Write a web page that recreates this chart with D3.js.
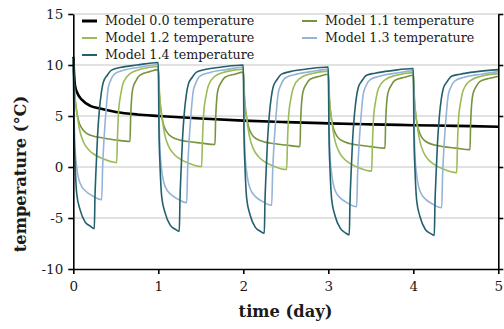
<!DOCTYPE html>
<html lang="en">
<head>
<meta charset="UTF-8">
<title>Model temperatures</title>
<script src="https://d3js.org/d3.v7.min.js"></script>
<style>
  body { margin: 0; background: #fff; }
  svg text { font-family: "DejaVu Serif", serif; fill: #1a1a1a; }
</style>
</head>
<body>
<svg id="chart" width="504" height="329"></svg>
<script>
// day index each cycle starts at
const days = [0, 1, 2, 3, 4];

// Model 0.0 (no cycling)
const m00Time = [0, 0.01, 0.02, 0.05, 0.1, 0.2, 0.3, 0.5, 0.75, 1, 1.5, 2, 2.5, 3, 3.5, 4, 4.5, 5];
const m00Temp = [10.8, 9.0, 8.0, 7.2, 6.6, 6.0, 5.75, 5.4, 5.15, 5.0, 4.75, 4.55, 4.4, 4.28, 4.18, 4.1, 4.03, 3.95];

// Model 1.1 : phase within the day, temps per day
const m11Phase = [0, 0.01, 0.03, 0.06, 0.1, 0.157, 0.25, 0.35, 0.5, 0.667, 0.675, 0.7, 0.74, 0.785, 0.9, 1.0];
const m11Temp = [
  [10.7, 8.0, 6.0, 4.6, 3.8, 3.3, 3.0, 2.85, 2.65, 2.5, 5.0, 7.7, 8.5, 9.0, 9.35, 9.55],
  [9.55, 7.5, 5.6, 4.2, 3.45, 2.95, 2.65, 2.5, 2.35, 2.2, 4.8, 7.5, 8.3, 8.8, 9.1, 9.3],
  [9.3, 7.2, 5.3, 4.0, 3.2, 2.75, 2.45, 2.3, 2.15, 2.0, 4.6, 7.3, 8.1, 8.6, 8.9, 9.1],
  [9.1, 7.0, 5.1, 3.8, 3.05, 2.6, 2.3, 2.15, 2.0, 1.85, 4.5, 7.2, 8.0, 8.5, 8.8, 9.0],
  [9.0, 6.9, 5.0, 3.7, 2.9, 2.45, 2.15, 2.0, 1.85, 1.7, 4.4, 7.1, 7.9, 8.4, 8.7, 8.9]
];

// Model 1.2
const m12Phase = [0, 0.015, 0.04, 0.07, 0.12, 0.18, 0.235, 0.35, 0.51, 0.52, 0.533, 0.56, 0.59, 0.667, 0.8, 1.0];
const m12Temp = [
  [10.7, 7.5, 5.5, 3.8, 2.45, 1.7, 1.3, 0.8, 0.43, 3.0, 5.5, 7.2, 8.3, 9.15, 9.6, 9.85],
  [9.85, 7.1, 5.1, 3.4, 2.05, 1.3, 0.9, 0.4, 0.05, 2.7, 5.2, 6.9, 8.0, 8.9, 9.35, 9.6],
  [9.6, 6.8, 4.8, 3.1, 1.75, 1.0, 0.6, 0.1, -0.25, 2.5, 5.0, 6.7, 7.8, 8.7, 9.15, 9.4],
  [9.4, 6.6, 4.6, 2.9, 1.6, 0.85, 0.45, -0.05, -0.4, 2.4, 4.9, 6.6, 7.7, 8.55, 9.0, 9.25],
  [9.25, 6.5, 4.5, 2.8, 1.45, 0.7, 0.3, -0.2, -0.55, 2.3, 4.8, 6.5, 7.6, 8.45, 8.9, 9.15]
];

// Model 1.3
const m13Phase = [0, 0.01, 0.02, 0.04, 0.08, 0.15, 0.22, 0.334, 0.345, 0.36, 0.385, 0.41, 0.44, 0.49, 0.6, 0.8, 1.0];
const m13Temp = [
  [10.7, 5.0, 2.0, 0.0, -1.6, -2.4, -2.8, -3.2, 0.0, 2.5, 5.5, 7.7, 8.5, 9.15, 9.5, 9.8, 10.05],
  [10.05, 4.6, 1.7, -0.3, -1.9, -2.7, -3.1, -3.5, -0.3, 2.2, 5.2, 7.4, 8.2, 8.9, 9.25, 9.55, 9.8],
  [9.8, 4.4, 1.4, -0.5, -2.1, -2.95, -3.35, -3.75, -0.5, 2.0, 5.0, 7.2, 8.0, 8.7, 9.05, 9.35, 9.6],
  [9.6, 4.2, 1.2, -0.7, -2.3, -3.1, -3.5, -3.9, -0.6, 1.9, 4.9, 7.1, 7.9, 8.55, 8.9, 9.2, 9.45],
  [9.45, 4.1, 1.1, -0.8, -2.4, -3.2, -3.6, -4.0, -0.7, 1.8, 4.8, 7.0, 7.8, 8.45, 8.8, 9.1, 9.35]
];

// Model 1.4
const m14Phase = [0, 0.008, 0.02, 0.04, 0.08, 0.14, 0.2, 0.247, 0.255, 0.267, 0.285, 0.306, 0.33, 0.353, 0.4, 0.45, 0.55, 0.75, 1.0];
const m14Temp = [
  [10.7, 4.0, 0.6, -2.6, -4.2, -5.4, -5.8, -6.04, -3.0, -0.3, 3.0, 5.5, 7.3, 8.3, 9.0, 9.5, 9.75, 10.0, 10.25],
  [10.25, 3.6, 0.2, -2.9, -4.5, -5.7, -6.1, -6.3, -3.2, -0.5, 2.8, 5.3, 7.1, 8.1, 8.8, 9.3, 9.55, 9.8, 10.0],
  [10.0, 3.4, 0.0, -3.1, -4.7, -5.9, -6.3, -6.5, -3.4, -0.7, 2.6, 5.1, 6.9, 7.9, 8.6, 9.1, 9.35, 9.6, 9.8],
  [9.8, 3.2, -0.2, -3.2, -4.8, -6.0, -6.45, -6.65, -3.5, -0.8, 2.5, 5.0, 6.8, 7.8, 8.5, 9.0, 9.2, 9.45, 9.65],
  [9.65, 3.1, -0.3, -3.3, -4.9, -6.1, -6.5, -6.7, -3.6, -0.9, 2.4, 4.9, 6.7, 7.7, 8.4, 8.9, 9.1, 9.35, 9.55]
];

const yTicks = [-10, -5, 0, 5, 10, 15];
const xTicks = [0, 1, 2, 3, 4, 5];

// join per-day phases into one time series (first point of later days repeats the previous end)
function cycles(phase, temps) {
  const pts = [];
  days.forEach((d, i) => {
    phase.forEach((p, j) => {
      if (i > 0 && j === 0) return;
      pts.push({t: d + p, v: temps[i][j]});
    });
  });
  return pts;
}

const series = [
  {name: "Model 0.0 temperature", color: "#000000", width: 2.6, data: m00Time.map((t, i) => ({t: t, v: m00Temp[i]}))},
  {name: "Model 1.1 temperature", color: "#77933C", width: 1.6, data: cycles(m11Phase, m11Temp)},
  {name: "Model 1.2 temperature", color: "#9BBB59", width: 1.6, data: cycles(m12Phase, m12Temp)},
  {name: "Model 1.3 temperature", color: "#95B3D7", width: 1.6, data: cycles(m13Phase, m13Temp)},
  {name: "Model 1.4 temperature", color: "#23606D", width: 1.6, data: cycles(m14Phase, m14Temp)}
];

const svg = d3.select("#chart");
const plotLeft = 73.3, plotRight = 498.3, plotTop = 14, plotBottom = 269;

const x = d3.scaleLinear().domain([0, 5]).range([plotLeft, plotRight]);
const y = d3.scaleLinear().domain([-10, 15]).range([plotBottom, plotTop]);

// gridlines
svg.append("g").selectAll("line")
  .data(yTicks.filter(v => v > -10))
  .join("line")
  .attr("x1", plotLeft).attr("x2", plotRight)
  .attr("y1", d => y(d)).attr("y2", d => y(d))
  .attr("stroke", "#C4C4C4").attr("stroke-width", 1);

// lines
const line = d3.line()
  .x(d => x(d.t))
  .y(d => y(d.v))
  .curve(d3.curveMonotoneX);

svg.append("g").selectAll("path")
  .data(series)
  .join("path")
  .attr("fill", "none")
  .attr("stroke", d => d.color)
  .attr("stroke-width", d => d.width)
  .attr("stroke-linejoin", "round")
  .attr("d", d => line(d.data));

// axes (plain hyphen for negatives, integers on x)
const plain = d => String(d);

svg.append("g")
  .attr("transform", `translate(${plotLeft},0)`)
  .call(d3.axisLeft(y).tickValues(yTicks).tickFormat(plain).tickSize(5).tickSizeOuter(0).tickPadding(5));

svg.append("g")
  .attr("transform", `translate(${plotRight},0)`)
  .call(d3.axisRight(y).tickValues(yTicks).tickSize(5).tickSizeOuter(0).tickFormat(""));

svg.append("g")
  .attr("transform", `translate(0,${plotBottom})`)
  .call(d3.axisBottom(x).tickValues(xTicks).tickFormat(plain).tickSize(5).tickSizeOuter(0).tickPadding(7));

svg.selectAll(".domain, .tick line").attr("stroke", "#000").attr("stroke-width", 1.6);
svg.selectAll(".tick text").style("font-size", "13.5px").attr("fill", "#1a1a1a");

// axis titles
svg.append("text")
  .attr("x", 285.5).attr("y", 317)
  .attr("text-anchor", "middle")
  .style("font-size", "16.3px").style("font-weight", "bold")
  .text("time (day)");

svg.append("text")
  .attr("transform", "translate(26,174) rotate(-90)")
  .attr("text-anchor", "middle")
  .style("font-size", "16.3px").style("font-weight", "bold")
  .text("temperature (°C)");

// legend, two columns filled row by row
const legendCols = [82, 302];
const legendRows = [21, 38, 55];
const legend = svg.append("g").selectAll("g")
  .data(series)
  .join("g")
  .attr("transform", (d, i) => `translate(${legendCols[i % 2]},${legendRows[Math.floor(i / 2)]})`);

legend.append("line")
  .attr("x1", 0).attr("x2", 15)
  .attr("stroke", d => d.color)
  .attr("stroke-width", (d, i) => i === 0 ? 3 : 2);

legend.append("text")
  .attr("x", 23).attr("dy", "0.35em")
  .style("font-size", "12.7px")
  .text(d => d.name);
</script>
</body>
</html>
